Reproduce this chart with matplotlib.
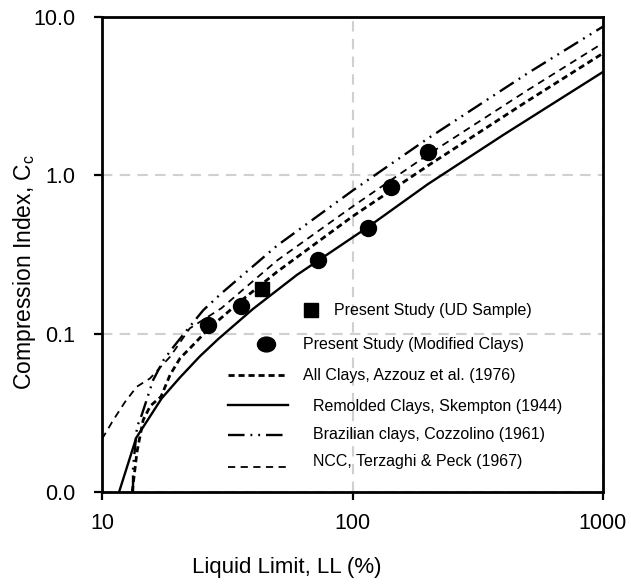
import matplotlib
matplotlib.use('Agg')
import matplotlib.pyplot as plt
from matplotlib.path import Path
import numpy as np

plt.rcParams['font.family'] = ['Liberation Sans', 'DejaVu Sans']
plt.rcParams['mathtext.fontset'] = 'custom'
plt.rcParams['mathtext.rm'] = 'Liberation Sans'
plt.rcParams['mathtext.it'] = 'Liberation Sans'

# Measured points (LL %, Cc)
ud_ll = [43.6]
ud_cc = [0.191]
mod_ll = [26.6, 35.8, 73.0, 115.6, 142.0, 200.7]
mod_cc = [0.113, 0.149, 0.292, 0.467, 0.847, 1.397]

# Correlation curves
azzouz_ll = [13.2, 13.8, 14.6, 15.6, 17.2, 18.7, 20.5, 22.8, 26.6, 35, 50, 100, 200, 500, 1000]
azzouz_cc = [0.010, 0.018, 0.0285, 0.035, 0.040, 0.055, 0.070, 0.083, 0.107, 0.156, 0.246, 0.55, 1.15, 2.95, 5.9]

skempton_ll = [11.7, 13.7, 17.3, 20.5, 24.6, 29, 40, 60, 115, 200, 400, 1000]
skempton_cc = [0.010, 0.022, 0.039, 0.053, 0.072, 0.092, 0.143, 0.235, 0.47, 0.88, 1.80, 4.5]

cozz_ll = [13.3, 13.3, 13.8, 14.4, 16.0, 17.6, 19.3, 22.1, 25.4, 30, 50, 100, 200, 500, 1000]
cozz_cc = [0.010, 0.0142, 0.0258, 0.0306, 0.0509, 0.068, 0.0826, 0.108, 0.141, 0.18, 0.36, 0.80, 1.71, 4.41, 8.7]

ncc_ll = [10, 11.1, 12.35, 13.76, 15.55, 18.7, 22.4, 30, 50, 100, 200, 500, 1000]
ncc_cc = [0.0216, 0.0285, 0.037, 0.0462, 0.0522, 0.0715, 0.108, 0.145, 0.29, 0.635, 1.35, 3.45, 6.85]

legend_labels = ['Present Study (UD Sample)', 'Present Study (Modified Clays)',
                 'All Clays, Azzouz et al. (1976)', 'Remolded Clays, Skempton (1944)',
                 'Brazilian clays, Cozzolino (1961)', 'NCC, Terzaghi & Peck (1967)']

fig = plt.figure(figsize=(6.31, 5.86), dpi=100)
ax = fig.add_axes([102/631, 1 - 492/586, 501/631, 475/586])

ls_azz = (0, (2.2, 1.4))
ls_ncc = (0, (4, 3))
ls_coz = (0, (7, 2.5, 0.8, 2.5, 0.8, 2.5))

ax.plot(azzouz_ll, azzouz_cc, color='black', lw=2.0, ls=ls_azz)
ax.plot(skempton_ll, skempton_cc, color='black', lw=1.7, ls='-')
ax.plot(cozz_ll, cozz_cc, color='black', lw=1.7, ls=ls_coz)
ax.plot(ncc_ll, ncc_cc, color='black', lw=1.3, ls=ls_ncc)
ax.plot(ud_ll, ud_cc, ls='none', marker='s', ms=10.5, color='black')
ax.plot(mod_ll, mod_cc, ls='none', marker='o', ms=11.5, color='black')

ax.set_xscale('log')
ax.set_yscale('log')
ax.set_xlim(10, 1000)
ax.set_ylim(0.01, 10)
ax.set_xticks([10, 100, 1000])
ax.set_xticklabels(['10', '100', '1000'])
ax.set_yticks([0.01, 0.1, 1, 10])
ax.set_yticklabels(['0.0', '0.1', '1.0', '10.0'])
ax.minorticks_off()
ax.tick_params(axis='both', labelsize=15.5, length=6, width=1.6, direction='out')
ax.tick_params(axis='x', pad=9)
ax.tick_params(axis='y', pad=13)
for sp in ax.spines.values():
    sp.set_linewidth(2)
ax.grid(True, which='major', color='#d0d0d0', lw=1.5, ls=(0, (5, 3.5)))
ax.set_axisbelow(True)

# Legend drawn inside the plot area
tr = ax.transAxes
fs = 11.5
ax.plot([0.417], [0.383], marker='s', ms=10, color='black', transform=tr, clip_on=False)
ax.text(0.4637, 0.383, legend_labels[0], transform=tr, fontsize=fs, va='center')
ell = Path(Path.unit_circle().vertices * np.array([1.0, 0.82]), Path.unit_circle().codes)
ax.plot([0.3267], [0.3109], marker=ell, ms=13, color='black', transform=tr, clip_on=False)
ax.text(0.4018, 0.3109, legend_labels[1], transform=tr, fontsize=fs, va='center')
ax.plot([0.2521, 0.3719], [0.2463, 0.2463], color='black', lw=2.0, ls=ls_azz, transform=tr)
ax.text(0.4018, 0.2463, legend_labels[2], transform=tr, fontsize=fs, va='center')
ax.plot([0.2521, 0.3719], [0.1832, 0.1832], color='black', lw=1.7, ls='-', transform=tr)
ax.text(0.4218, 0.1796, legend_labels[3], transform=tr, fontsize=fs, va='center')
ax.plot([0.2521, 0.3719], [0.12, 0.12], color='black', lw=1.7, ls=ls_coz, transform=tr)
ax.text(0.4218, 0.1221, legend_labels[4], transform=tr, fontsize=fs, va='center')
ax.plot([0.2521, 0.3719], [0.0533, 0.0533], color='black', lw=1.3, ls=ls_ncc, transform=tr)
ax.text(0.4218, 0.0632, legend_labels[5], transform=tr, fontsize=fs, va='center')

fig.text(287/631, 1 - 567/586, 'Liquid Limit, LL (%)', fontsize=16, ha='center', va='center')
fig.text(25/631, 1 - 272/586, 'Compression Index, C$_\\mathrm{c}$', fontsize=16.5,
         ha='center', va='center', rotation=90)

fig.savefig('out.png', dpi=100)
